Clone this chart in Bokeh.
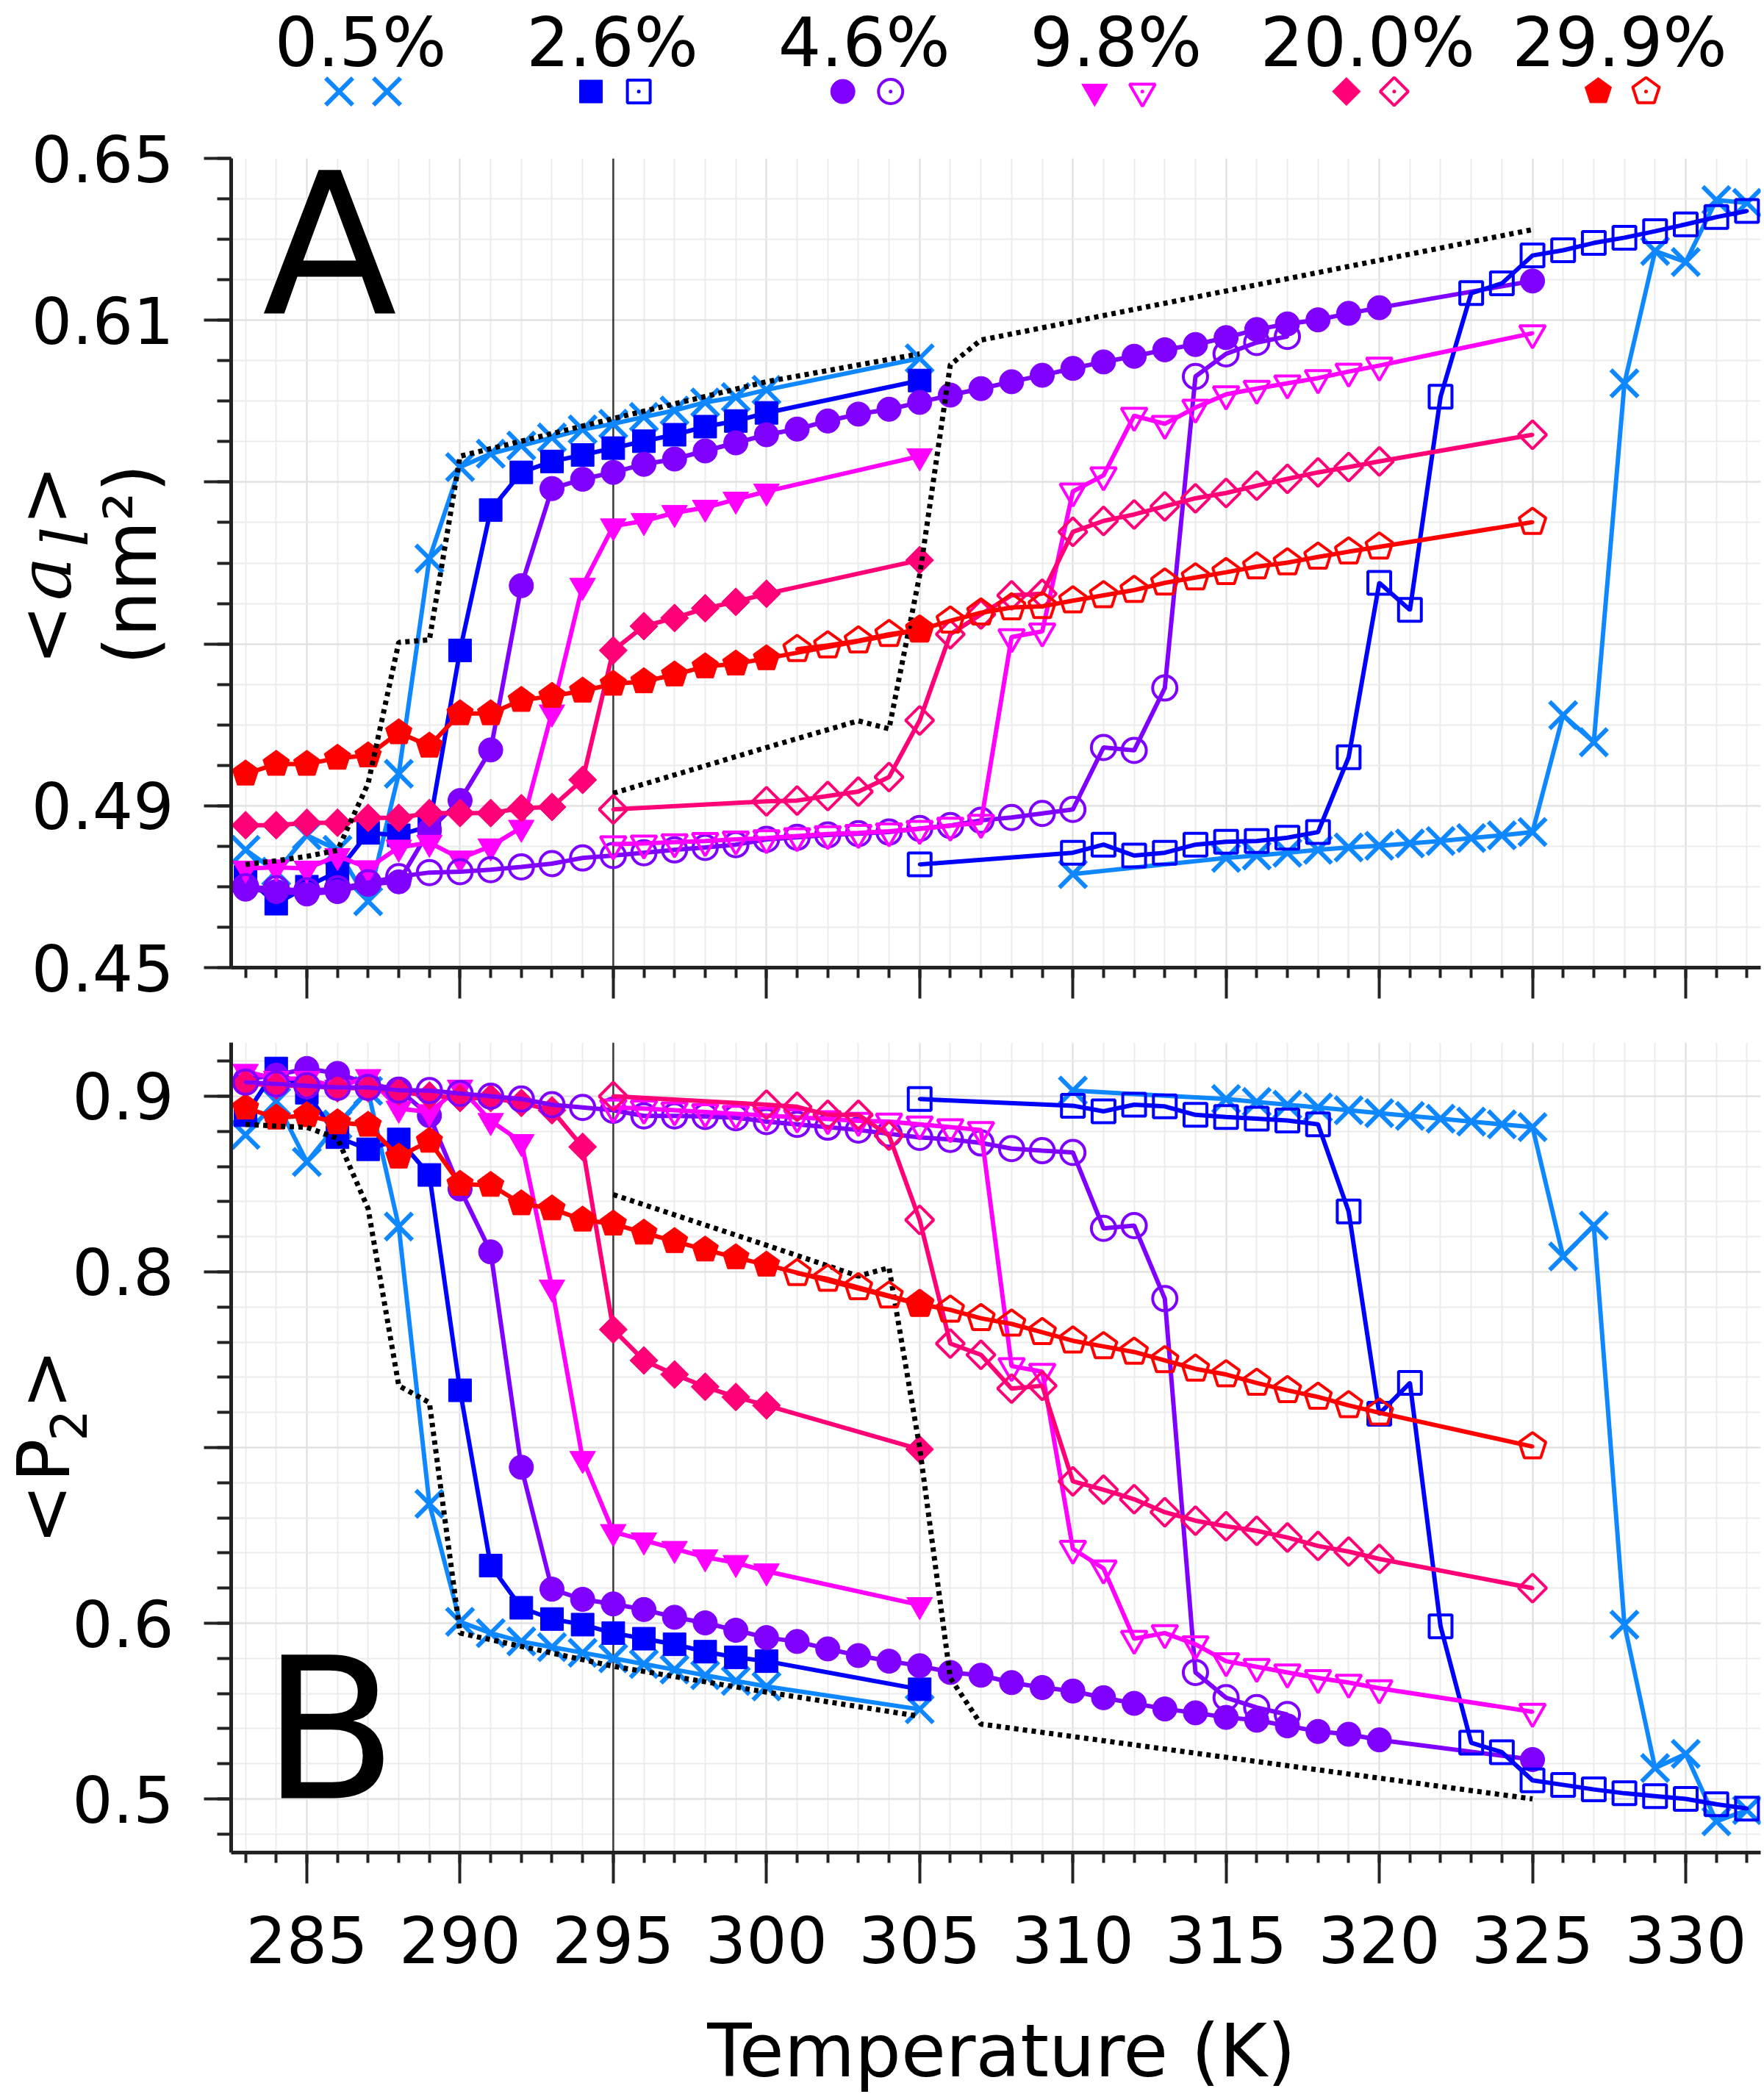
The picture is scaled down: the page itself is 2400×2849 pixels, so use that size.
import numpy as np
from bokeh.plotting import figure
from bokeh.layouts import column, row
from bokeh.models import Range1d, FixedTicker, Span
from bokeh.core.properties import value
from bokeh.embed import file_html
from bokeh.resources import INLINE

FONT = "DejaVu Sans"
SERIF = "DejaVu Serif"

# ------------------------------------------------------------------ data
CONCENTRATIONS = ["0.5%", "2.6%", "4.6%", "9.8%", "20.0%", "29.9%"]
COLORS = ["#0f87ff", "#0000ff", "#7f00ff", "#ff00ff", "#ff0077", "#ff0000"]
MARKERS = ["x", "square", "circle", "inverted_triangle", "diamond", "pentagon"]

X_MAJOR_TICKS = [285, 290, 295, 300, 305, 310, 315, 320, 325, 330]
X_TICK_LABELS = ["285", "290", "295", "300", "305", "310", "315", "320", "325", "330"]
X_MINOR_TICKS = [283, 284, 285, 286, 287, 288, 289, 290, 291, 292, 293, 294, 295, 296, 297,
                 298, 299, 300, 301, 302, 303, 304, 305, 306, 307, 308, 309, 310, 311, 312,
                 313, 314, 315, 316, 317, 318, 319, 320, 321, 322, 323, 324, 325, 326, 327,
                 328, 329, 330, 331, 332]
A_MAJOR_TICKS = [0.45, 0.49, 0.53, 0.57, 0.61, 0.65]
A_MINOR_TICKS = [0.45, 0.46, 0.47, 0.48, 0.49, 0.50, 0.51, 0.52, 0.53, 0.54, 0.55, 0.56,
                 0.57, 0.58, 0.59, 0.60, 0.61, 0.62, 0.63, 0.64, 0.65]
A_LABEL_VALUES = [0.45, 0.49, 0.61, 0.65]
A_LABELS = ["0.45", "0.49", "0.61", "0.65"]
B_MAJOR_TICKS = [0.5, 0.6, 0.7, 0.8, 0.9]
B_MINOR_TICKS = [0.48, 0.50, 0.52, 0.54, 0.56, 0.58, 0.60, 0.62, 0.64, 0.66, 0.68, 0.70,
                 0.72, 0.74, 0.76, 0.78, 0.80, 0.82, 0.84, 0.86, 0.88, 0.90, 0.92]
B_LABEL_VALUES = [0.5, 0.6, 0.8, 0.9]
B_LABELS = ["0.5", "0.6", "0.8", "0.9"]

# heating runs (filled symbols)
T_HEAT = [283, 284, 285, 286, 287, 288, 289, 290, 291, 292, 293, 294, 295, 296, 297, 298, 299, 300, 305]
T_HEAT_46 = [283, 284, 285, 286, 287, 288, 289, 290, 291, 292, 293, 294, 295, 296, 297, 298, 299, 300,
             301, 302, 303, 304, 305, 306, 307, 308, 309, 310, 311, 312, 313, 314, 315, 316, 317, 318,
             319, 320, 325]

AL_05_HEAT = [0.4791, 0.4737, 0.4827, 0.4791, 0.4664, 0.4979, 0.5511, 0.5737, 0.5770, 0.5790,
              0.5810, 0.5830, 0.5844, 0.5861, 0.5877, 0.5897, 0.5910, 0.5928, 0.6006]
P2_05_HEAT = [0.878, 0.897, 0.8626, 0.884, 0.903, 0.8258, 0.668, 0.6008, 0.5944, 0.5896,
              0.5864, 0.5832, 0.5800, 0.5768, 0.5736, 0.5704, 0.5672, 0.5640, 0.5510]
AL_26_HEAT = [0.4725, 0.4658, 0.4700, 0.4737, 0.4833, 0.4827, 0.4850, 0.5284, 0.5631, 0.5724,
              0.5751, 0.5767, 0.5784, 0.5801, 0.5817, 0.5837, 0.5851, 0.5871, 0.5951]
P2_26_HEAT = [0.8892, 0.9158, 0.9020, 0.8767, 0.8698, 0.8754, 0.8552, 0.7326, 0.6328, 0.6088,
              0.6024, 0.5992, 0.5944, 0.5912, 0.5880, 0.5838, 0.5806, 0.5784, 0.5624]
AL_46_HEAT = [0.4694, 0.4688, 0.4682, 0.4688, 0.4706, 0.4712, 0.4840, 0.4913, 0.5038, 0.5444,
              0.5684, 0.5707, 0.5724, 0.5744, 0.5757, 0.5777, 0.5797, 0.5817, 0.5831, 0.5851,
              0.5868, 0.5880, 0.5897, 0.5915, 0.5931, 0.5948, 0.5964, 0.5981, 0.5997, 0.6011,
              0.6027, 0.6040, 0.6057, 0.6077, 0.6091, 0.6101, 0.6117, 0.6131, 0.6197]
P2_46_HEAT = [0.9096, 0.9120, 0.9158, 0.9130, 0.9070, 0.9039, 0.8890, 0.8472, 0.8114, 0.6888,
              0.6194, 0.6136, 0.6110, 0.6078, 0.6034, 0.6002, 0.5960, 0.5918, 0.5896, 0.5854,
              0.5816, 0.5784, 0.5758, 0.5720, 0.5704, 0.5662, 0.5634, 0.5614, 0.5576, 0.5544,
              0.5512, 0.5490, 0.5464, 0.5448, 0.5416, 0.5384, 0.5368, 0.5336, 0.5224]
AL_98_HEAT = [0.4745, 0.4748, 0.4745, 0.4776, 0.4746, 0.4797, 0.4809, 0.4770, 0.4800, 0.4846,
              0.5131, 0.5444, 0.5591, 0.5604, 0.5624, 0.5637, 0.5657, 0.5677, 0.5764]
P2_98_HEAT = [0.914, 0.910, 0.910, 0.905, 0.911, 0.893, 0.891, 0.905, 0.886, 0.874,
              0.7912, 0.6936, 0.6520, 0.6472, 0.6424, 0.6376, 0.6344, 0.6296, 0.6104]
AL_200_HEAT = [0.4852, 0.4852, 0.4858, 0.4858, 0.4870, 0.4870, 0.4882, 0.4882, 0.4882, 0.4894,
               0.4897, 0.4964, 0.5284, 0.5344, 0.5364, 0.5388, 0.5404, 0.5424, 0.5507]
P2_200_HEAT = [0.9074, 0.9060, 0.9060, 0.9046, 0.9046, 0.9025, 0.9004, 0.8990, 0.8990, 0.8962,
               0.8920, 0.8712, 0.7672, 0.7496, 0.7416, 0.7346, 0.7288, 0.7240, 0.6990]
AL_299_HEAT = [0.4979, 0.5003, 0.5003, 0.5018, 0.5024, 0.5081, 0.5048, 0.5128, 0.5128, 0.5161,
               0.5171, 0.5184, 0.5201, 0.5207, 0.5224, 0.5244, 0.5251, 0.5264, 0.5335]
P2_299_HEAT = [0.8934, 0.8877, 0.8891, 0.8850, 0.8836, 0.8655, 0.8745, 0.8500, 0.8494, 0.8389,
               0.8360, 0.8296, 0.8274, 0.8222, 0.8174, 0.8126, 0.8082, 0.8040, 0.7816]

# cooling runs (open symbols)
T_COOL_05 = [310, 315, 316, 317, 318, 319, 320, 321, 322, 323, 324, 325, 326, 327, 328, 329, 330, 331, 332]
AL_05_COOL = [0.4731, 0.4771, 0.4777, 0.4784, 0.4791, 0.4797, 0.4801, 0.4807, 0.4813, 0.4820,
              0.4827, 0.4835, 0.5124, 0.5057, 0.5944, 0.6271, 0.6244, 0.6397, 0.6390]
P2_05_COOL = [0.9032, 0.8984, 0.8968, 0.8952, 0.8936, 0.8920, 0.8904, 0.8888, 0.8872, 0.8856,
              0.8840, 0.8824, 0.8088, 0.8264, 0.5992, 0.5176, 0.5256, 0.4872, 0.4936]
T_COOL_26 = [305, 310, 311, 312, 313, 314, 315, 316, 317, 318, 319, 320, 321, 322, 323, 324, 325,
             326, 327, 328, 329, 330, 331, 332]
AL_26_COOL = [0.4755, 0.4784, 0.4804, 0.4777, 0.4784, 0.4804, 0.4811, 0.4813, 0.4821, 0.4835,
              0.5020, 0.5451, 0.5384, 0.5911, 0.6167, 0.6191, 0.6260, 0.6273, 0.6291, 0.6304,
              0.6320, 0.6337, 0.6355, 0.6370]
P2_26_COOL = [0.8984, 0.8946, 0.8914, 0.8952, 0.8942, 0.8894, 0.8882, 0.8872, 0.8862, 0.8840,
              0.8344, 0.7192, 0.7368, 0.5982, 0.5320, 0.5266, 0.5106, 0.5080, 0.5054, 0.5032,
              0.5016, 0.5000, 0.4970, 0.4945]
T_COOL_46 = [283, 284, 285, 286, 287, 288, 289, 290, 291, 292, 293, 294, 295, 296, 297, 298, 299, 300,
             301, 302, 303, 304, 305, 306, 307, 308, 309, 310, 311, 312, 313, 314, 315, 316, 317]
AL_46_COOL = [0.4700, 0.4695, 0.4690, 0.4695, 0.4710, 0.4725, 0.4735, 0.4737, 0.4742, 0.4749,
              0.4757, 0.4771, 0.4777, 0.4784, 0.4791, 0.4797, 0.4804, 0.4817, 0.4822, 0.4828,
              0.4831, 0.4835, 0.4844, 0.4851, 0.4864, 0.4871, 0.4881, 0.4891, 0.5044, 0.5037,
              0.5191, 0.5961, 0.6017, 0.6045, 0.6060]
P2_46_COOL = [0.908, 0.907, 0.906, 0.905, 0.905, 0.9035, 0.9032, 0.9016, 0.900, 0.8984,
              0.8952, 0.8936, 0.892, 0.8888, 0.8888, 0.8885, 0.8878, 0.8856, 0.884, 0.8824,
              0.8808, 0.8786, 0.8766, 0.8754, 0.8734, 0.8702, 0.869, 0.868, 0.8248, 0.8264,
              0.7848, 0.572, 0.5576, 0.552, 0.548]
T_COOL_98 = [295, 296, 297, 298, 299, 300, 301, 302, 303, 304, 305, 306, 307, 308, 309, 310, 311,
             312, 313, 314, 315, 316, 317, 318, 319, 320, 325]
AL_98_COOL = [0.4805, 0.4807, 0.4810, 0.4813, 0.4817, 0.4820, 0.4825, 0.4830, 0.4833, 0.4837,
              0.4843, 0.4851, 0.4858, 0.5317, 0.5331, 0.5677, 0.5717, 0.5864, 0.5844, 0.5884,
              0.5917, 0.5931, 0.5944, 0.5957, 0.5973, 0.5988, 0.6068]
P2_98_COOL = [0.8936, 0.893, 0.892, 0.891, 0.890, 0.889, 0.888, 0.887, 0.886, 0.8856,
              0.884, 0.8824, 0.8808, 0.7464, 0.7432, 0.6424, 0.6312, 0.5912, 0.5944, 0.588,
              0.5784, 0.5752, 0.572, 0.5688, 0.5662, 0.563, 0.5496]
T_COOL_200 = [295, 300, 301, 302, 303, 304, 305, 306, 307, 308, 309, 310, 311, 312, 313, 314, 315,
              316, 317, 318, 319, 320, 325]
AL_200_COOL = [0.4891, 0.4911, 0.4913, 0.4924, 0.4935, 0.4971, 0.5111, 0.5324, 0.5373, 0.5420,
               0.5424, 0.5577, 0.5604, 0.5620, 0.5640, 0.5660, 0.5673, 0.5691, 0.5708, 0.5724,
               0.5737, 0.5751, 0.5817]
P2_200_COOL = [0.900, 0.8952, 0.894, 0.8894, 0.8894, 0.8776, 0.8296, 0.7592, 0.7528, 0.7336,
               0.7352, 0.6808, 0.676, 0.6706, 0.6632, 0.6584, 0.6552, 0.6526, 0.6488, 0.644,
               0.6408, 0.6366, 0.620]
T_COOL_299 = [301, 302, 303, 304, 305, 306, 307, 308, 309, 310, 311, 312, 313, 314, 315, 316, 317,
              318, 319, 320, 325]
AL_299_COOL = [0.5287, 0.5296, 0.5308, 0.5324, 0.5335, 0.5357, 0.5377, 0.5390, 0.5393, 0.5407,
               0.5420, 0.5433, 0.5451, 0.5464, 0.5477, 0.5491, 0.5501, 0.5515, 0.5528, 0.5540,
               0.5601]
P2_299_COOL = [0.7992, 0.7960, 0.7912, 0.7864, 0.7816, 0.7784, 0.7736, 0.7704, 0.7656, 0.7608,
               0.7576, 0.7544, 0.7496, 0.7448, 0.7416, 0.7368, 0.7326, 0.7288, 0.7240, 0.7198,
               0.7006]

# black dotted reference curves
T_DOT_HEAT = [283, 284, 285, 286, 287, 288, 289, 290, 295, 300, 305]
AL_DOT_HEAT = [0.4755, 0.4764, 0.4775, 0.4790, 0.4955, 0.5304, 0.5310, 0.5764, 0.5857, 0.5948, 0.6017]
P2_DOT_HEAT = [0.884, 0.883, 0.8823, 0.876, 0.836, 0.7352, 0.7256, 0.5944, 0.5755, 0.5608, 0.5470]
T_DOT_COOL = [295, 300, 303, 304, 305, 306, 307, 325]
AL_DOT_COOL = [0.4931, 0.5044, 0.5110, 0.5090, 0.5470, 0.5990, 0.6051, 0.6324]
P2_DOT_COOL = [0.844, 0.8152, 0.7976, 0.8024, 0.700, 0.5688, 0.5426, 0.500]

HEAT = [(T_HEAT, AL_05_HEAT, P2_05_HEAT), (T_HEAT, AL_26_HEAT, P2_26_HEAT),
        (T_HEAT_46, AL_46_HEAT, P2_46_HEAT), (T_HEAT, AL_98_HEAT, P2_98_HEAT),
        (T_HEAT, AL_200_HEAT, P2_200_HEAT), (T_HEAT, AL_299_HEAT, P2_299_HEAT)]
COOL = [(T_COOL_05, AL_05_COOL, P2_05_COOL), (T_COOL_26, AL_26_COOL, P2_26_COOL),
        (T_COOL_46, AL_46_COOL, P2_46_COOL), (T_COOL_98, AL_98_COOL, P2_98_COOL),
        (T_COOL_200, AL_200_COOL, P2_200_COOL), (T_COOL_299, AL_299_COOL, P2_299_COOL)]
DOTS = [(T_DOT_HEAT, AL_DOT_HEAT, P2_DOT_HEAT), (T_DOT_COOL, AL_DOT_COOL, P2_DOT_COOL)]

# ------------------------------------------------------------------ layout (page pixels)
PAGE_H = 2849
TOTAL_W = 2398


def up(py):
    return PAGE_H - py


FR_L, FR_R = 314, 2395            # plot frame, horizontal
SIDE_W = 268                      # width of the tick-label / title column
X_RANGE = Range1d(282.53, 332.447)

LEG_H = 155
A_CANVAS = (155, 1410)
A_FRAME = (215, 1316)
A_VALS = (0.45, 0.65)
B_CANVAS = (1410, 2570)
B_FRAME = (1418, 2520)
B_VALS = (0.46946, 0.93054)
C_CANVAS = (2570, 2848)


def canvas_range(frame, canvas, vals):
    scale = (frame[1] - frame[0]) / (vals[1] - vals[0])
    return Range1d(vals[0] - (canvas[1] - frame[1]) / scale, vals[1] + (frame[0] - canvas[0]) / scale)


A_RANGE = Range1d(*A_VALS)
B_RANGE = Range1d(*B_VALS)
A_SIDE_RANGE = canvas_range(A_FRAME, A_CANVAS, A_VALS)
B_SIDE_RANGE = canvas_range(B_FRAME, B_CANVAS, B_VALS)


def no_align(fig):
    try:
        fig.frame_align = False
    except Exception:
        pass


def add_markers(p, xs, ys, kind, color, filled, **kw):
    fill = color if filled else None
    lw = 1 if filled else 4
    if kind == "x":
        p.scatter(x=xs, y=ys, marker="x", size=52, line_color=color, line_width=6, **kw)
        return
    if kind == "pentagon":
        try:
            p.ngon(x=xs, y=ys, radius=19, radius_units="screen", n=5, angle=0.0,
                   fill_color=fill, line_color=color, line_width=lw, **kw)
        except Exception:
            p.scatter(x=xs, y=ys, marker="hex", size=36, fill_color=fill,
                      line_color=color, line_width=lw, **kw)
    else:
        marker, size, ang = {"square": ("square", 31, 0.0),
                             "circle": ("circle", 33, 0.0),
                             "inverted_triangle": ("inverted_triangle", 35, 0.0),
                             "diamond": ("square", 27, np.pi / 4)}[kind]
        p.scatter(x=xs, y=ys, marker=marker, size=size, angle=ang, fill_color=fill,
                  line_color=color, line_width=lw, **kw)
    if not filled:
        p.scatter(x=xs, y=ys, marker="circle", size=5, fill_color=color, line_color=None, **kw)


def hide_labels(ax):
    ax.major_label_text_color = None
    ax.major_label_text_alpha = 0
    ax.major_label_text_font_size = "1px"
    ax.major_label_standoff = 0


def style_axes(p, y_major, y_minor):
    xt = FixedTicker(ticks=X_MAJOR_TICKS, minor_ticks=X_MINOR_TICKS)
    yt = FixedTicker(ticks=y_major, minor_ticks=y_minor)
    p.xaxis.ticker = xt
    p.yaxis.ticker = yt
    p.xgrid.ticker = xt
    p.ygrid.ticker = yt
    for g in (p.xgrid, p.ygrid):
        g.grid_line_color = "#e0e0e0"
        g.grid_line_width = 2
        g.minor_grid_line_color = "#ececec"
        g.minor_grid_line_width = 2
    for ax in (p.xaxis, p.yaxis):
        ax.axis_line_color = "#222222"
        ax.axis_line_width = 5
        ax.major_tick_line_color = "#222222"
        ax.minor_tick_line_color = "#222222"
        ax.major_tick_line_width = 4
        ax.minor_tick_line_width = 4
        ax.major_tick_in = 0
        ax.minor_tick_in = 0
        hide_labels(ax)
    p.xaxis.major_tick_out = 42
    p.xaxis.minor_tick_out = 14
    p.yaxis.major_tick_out = 37
    p.yaxis.minor_tick_out = 19


def blank(fig):
    fig.outline_line_color = None
    fig.background_fill_color = "white"
    fig.border_fill_color = "white"
    no_align(fig)


def panel(canvas, frame, yr, y_major, y_minor, letter, letter_y):
    p = figure(width=TOTAL_W - SIDE_W, height=canvas[1] - canvas[0], x_range=X_RANGE, y_range=yr,
               toolbar_location=None, output_backend="svg", title=None,
               min_border_left=FR_L - SIDE_W, min_border_right=TOTAL_W - FR_R,
               min_border_top=frame[0] - canvas[0], min_border_bottom=canvas[1] - frame[1])
    blank(p)
    p.extra_x_ranges = {"px": Range1d(FR_L, FR_R)}
    p.extra_y_ranges = {"px": Range1d(up(frame[1]), up(frame[0]))}
    style_axes(p, y_major, y_minor)
    span = Span(location=295, dimension="height", line_color="#3a3a3a", line_width=2.5)
    span.level = "underlay"
    p.add_layout(span)
    p.text(x=[448], y=[up(letter_y)], text=[letter], text_align="center",
           text_baseline="middle", text_font=value(FONT), text_font_size=value("268px"),
           text_color="black", x_range_name="px", y_range_name="px")
    return p


def side(canvas, yr, label_values, labels, pieces):
    s = figure(width=SIDE_W, height=canvas[1] - canvas[0], x_range=Range1d(0, SIDE_W), y_range=yr,
               toolbar_location=None, output_backend="svg", title=None,
               x_axis_type=None, y_axis_type=None, min_border=0)
    blank(s)
    s.extra_y_ranges = {"px": Range1d(up(canvas[1]), up(canvas[0]))}
    s.text(x=[236] * len(labels), y=label_values, text=labels, text_align="right",
           text_baseline="middle", text_font=value(FONT), text_font_size=value("87px"),
           text_color="black")
    for txt, cx, cy, fs, font, style in pieces:
        s.text(x=[cx], y=[up(cy)], text=[txt], angle=np.pi / 2, text_align="center",
               text_baseline="middle", text_font=value(font),
               text_font_size=value(f"{fs}px"), text_font_style=value(style),
               text_color="black", y_range_name="px")
    return s


# panels
pA = panel(A_CANVAS, A_FRAME, A_RANGE, A_MAJOR_TICKS, A_MINOR_TICKS, "A", 333)
pB = panel(B_CANVAS, B_FRAME, B_RANGE, B_MAJOR_TICKS, B_MINOR_TICKS, "B", 2353)

for p, idx in ((pA, 1), (pB, 2)):
    for (series, color, kind) in zip(HEAT, COLORS, MARKERS):
        xs, ys = series[0], series[idx]
        p.line(x=xs, y=ys, line_color=color, line_width=6)
        add_markers(p, xs, ys, kind, color, True)
    for series in DOTS:
        p.line(x=series[0], y=series[idx], line_color="black", line_width=7, line_dash="6 6")
    for (series, color, kind) in zip(COOL, COLORS, MARKERS):
        xs, ys = series[0], series[idx]
        p.line(x=xs, y=ys, line_color=color, line_width=6)
        add_markers(p, xs, ys, kind, color, False)

pieces_A = [("<", 60, 863.5, 98, FONT, "normal"),
            ("a", 61, 787, 100, SERIF, "italic"),
            ("l", 88, 730, 86, SERIF, "italic"),
            (">", 60, 673.5, 98, FONT, "normal"),
            ("(nm²)", 177, 767.5, 98, FONT, "normal")]
pieces_B = [("<", 60, 2060, 98, FONT, "normal"),
            ("P", 59, 1986.5, 98, FONT, "normal"),
            ("2", 92, 1939, 67, FONT, "normal"),
            (">", 60, 1876, 98, FONT, "normal")]

sA = side(A_CANVAS, A_SIDE_RANGE, A_LABEL_VALUES, A_LABELS, pieces_A)
sB = side(B_CANVAS, B_SIDE_RANGE, B_LABEL_VALUES, B_LABELS, pieces_B)

# bottom strip: x tick labels and x-axis title
pC = figure(width=TOTAL_W, height=C_CANVAS[1] - C_CANVAS[0], x_range=X_RANGE,
            y_range=Range1d(up(C_CANVAS[1]), up(C_CANVAS[0])),
            toolbar_location=None, output_backend="svg", title=None,
            x_axis_type=None, y_axis_type=None,
            min_border_left=FR_L, min_border_right=TOTAL_W - FR_R, min_border_top=0, min_border_bottom=0)
blank(pC)
pC.extra_x_ranges = {"px": Range1d(FR_L, FR_R)}
pC.text(x=X_MAJOR_TICKS, y=[up(2638)] * len(X_MAJOR_TICKS), text=X_TICK_LABELS,
        text_align="center", text_baseline="middle", text_font=value(FONT),
        text_font_size=value("87px"), text_color="black")
pC.text(x=[1362], y=[up(2790)], text=["Temperature (K)"], text_align="center",
        text_baseline="middle", text_font=value(FONT), text_font_size=value("99px"),
        text_color="black", x_range_name="px")

# legend strip (frame spans the same columns as the panels)
leg = figure(width=TOTAL_W, height=LEG_H, x_range=Range1d(FR_L, FR_R), y_range=Range1d(up(LEG_H), up(0)),
             toolbar_location=None, output_backend="svg", title=None,
             x_axis_type=None, y_axis_type=None,
             min_border_left=FR_L, min_border_right=TOTAL_W - FR_R, min_border_top=0, min_border_bottom=0)
blank(leg)
centers = [490 + 342.6 * i for i in range(len(CONCENTRATIONS))]
leg.text(x=centers, y=[up(58)] * len(centers), text=CONCENTRATIONS, text_align="center",
         text_baseline="middle", text_font=value(FONT), text_font_size=value("92px"),
         text_color="black")
for cx, color, kind in zip(centers, COLORS, MARKERS):
    add_markers(leg, [cx - 29], [up(124)], kind, color, True)
    add_markers(leg, [cx + 36], [up(124)], kind, color, False)

layout = column(leg, row(sA, pA), row(sB, pB), pC)

open("out.html", "w").write(file_html(layout, INLINE))
